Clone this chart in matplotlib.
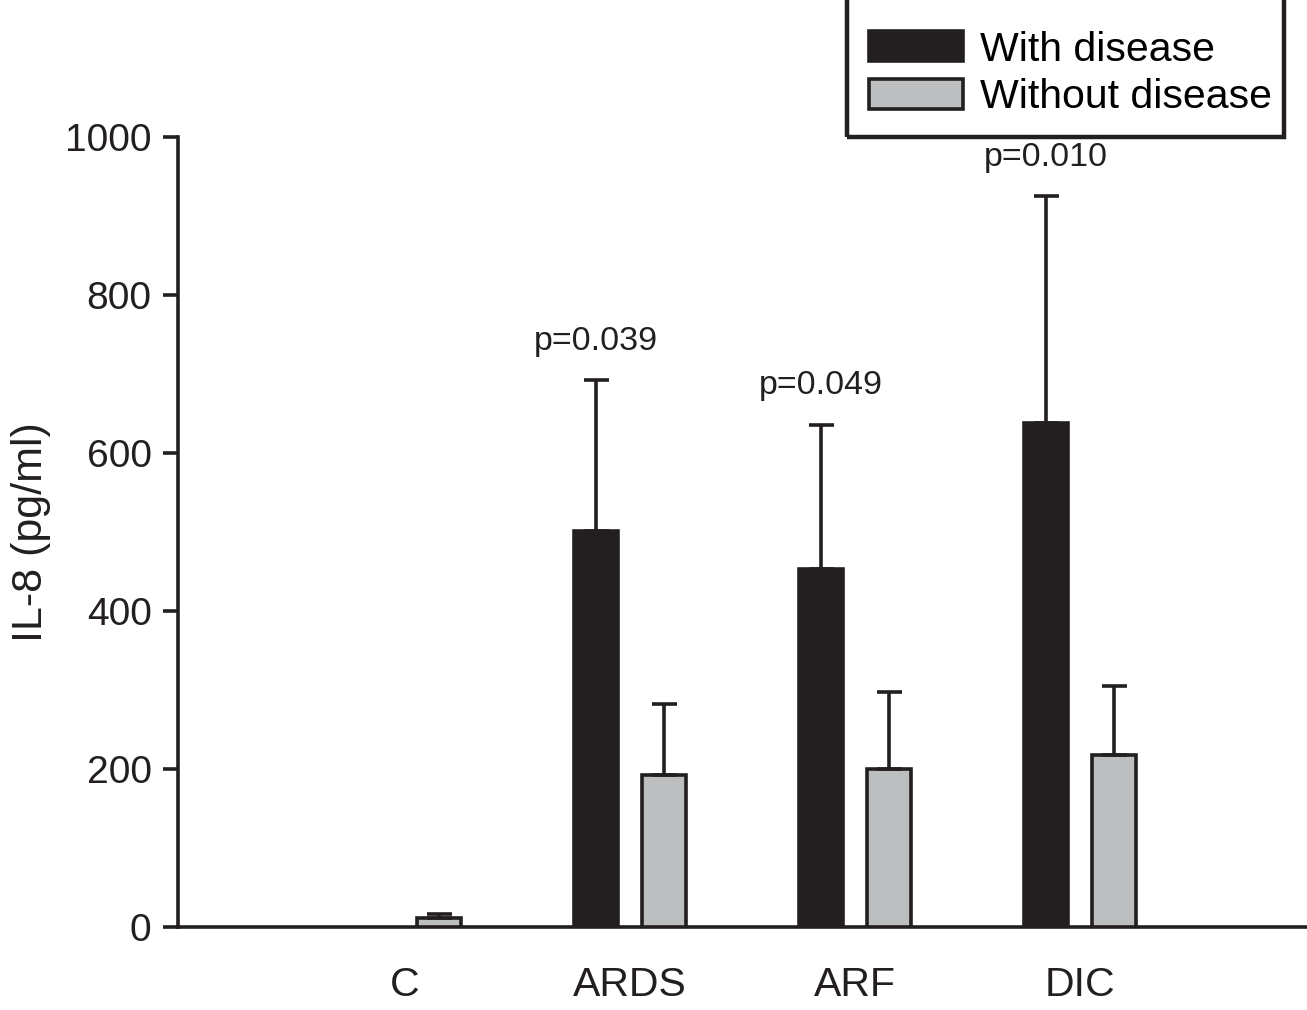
import numpy as np
import matplotlib.pyplot as plt
from matplotlib.patches import Rectangle

plt.rcParams['font.family'] = ['Liberation Sans', 'DejaVu Sans']

categories = ["C", "ARDS", "ARF", "DIC"]
with_disease = [0, 501, 453, 638]
with_err = [0, 191, 183, 287]
without_disease = [12, 192, 200, 218]
without_err = [5, 90, 97, 87]
p_labels = [None, "p=0.039", "p=0.049", "p=0.010"]

x = np.arange(len(categories))
w = 0.195
off = 0.152

fig = plt.figure(figsize=(13.07, 10.10), dpi=100)
ax = fig.add_axes([0.1362, 0.0822, 0.8638, 0.782])

lw = 2.6
dark = "#231f20"
# no black bar for control group
xb = x[1:] - off
ax.bar(xb, with_disease[1:], w, color=dark, edgecolor=dark, linewidth=lw,
       yerr=[np.zeros(3), with_err[1:]], capsize=9,
       error_kw=dict(ecolor=dark, elinewidth=lw, capthick=lw),
       label="With disease", zorder=3)
ax.bar(x + off, without_disease, w, color="#bcbec0", edgecolor=dark, linewidth=lw,
       yerr=[np.zeros(4), without_err], capsize=9,
       error_kw=dict(ecolor=dark, elinewidth=lw, capthick=lw),
       label="Without disease", zorder=3)

for i, p in enumerate(p_labels):
    if p is None:
        continue
    top = with_disease[i] + with_err[i]
    ax.text(x[i] - off, top + 30, p, ha="center", va="bottom", fontsize=24.5, color=dark)

ax.set_xlim(-1.01, 4.01)
ax.set_ylim(0, 1000)
ax.set_yticks([0, 200, 400, 600, 800, 1000])
ax.set_xticks(x)
ax.set_xticklabels(categories)
ax.tick_params(axis="x", length=0, pad=28, labelsize=29.5, colors=dark)
ax.tick_params(axis="y", length=11, width=lw, pad=8, labelsize=28, colors=dark)
for s in ["top", "right"]:
    ax.spines[s].set_visible(False)
for s in ["left", "bottom"]:
    ax.spines[s].set_linewidth(lw)
    ax.spines[s].set_color(dark)
ax.set_ylabel("IL-8 (pg/ml)", fontsize=31, color=dark, labelpad=10)

# legend without its own frame, box drawn separately (top runs off the page)
leg = fig.legend(loc="lower left", bbox_to_anchor=(869 / 1307, (1010 - 116) / 1010),
                 fontsize=29.5, frameon=False,
                 handlelength=2.3, handleheight=0.75, handletextpad=0.4,
                 borderpad=0, labelspacing=0.23, borderaxespad=0)
fig.patches.append(Rectangle((847 / 1307, (1010 - 137) / 1010), (1284 - 847) / 1307, 0.2,
                             transform=fig.transFigure, fill=False, lw=3.2, ec=dark,
                             joinstyle="miter"))

fig.savefig("out.png", dpi=100)
